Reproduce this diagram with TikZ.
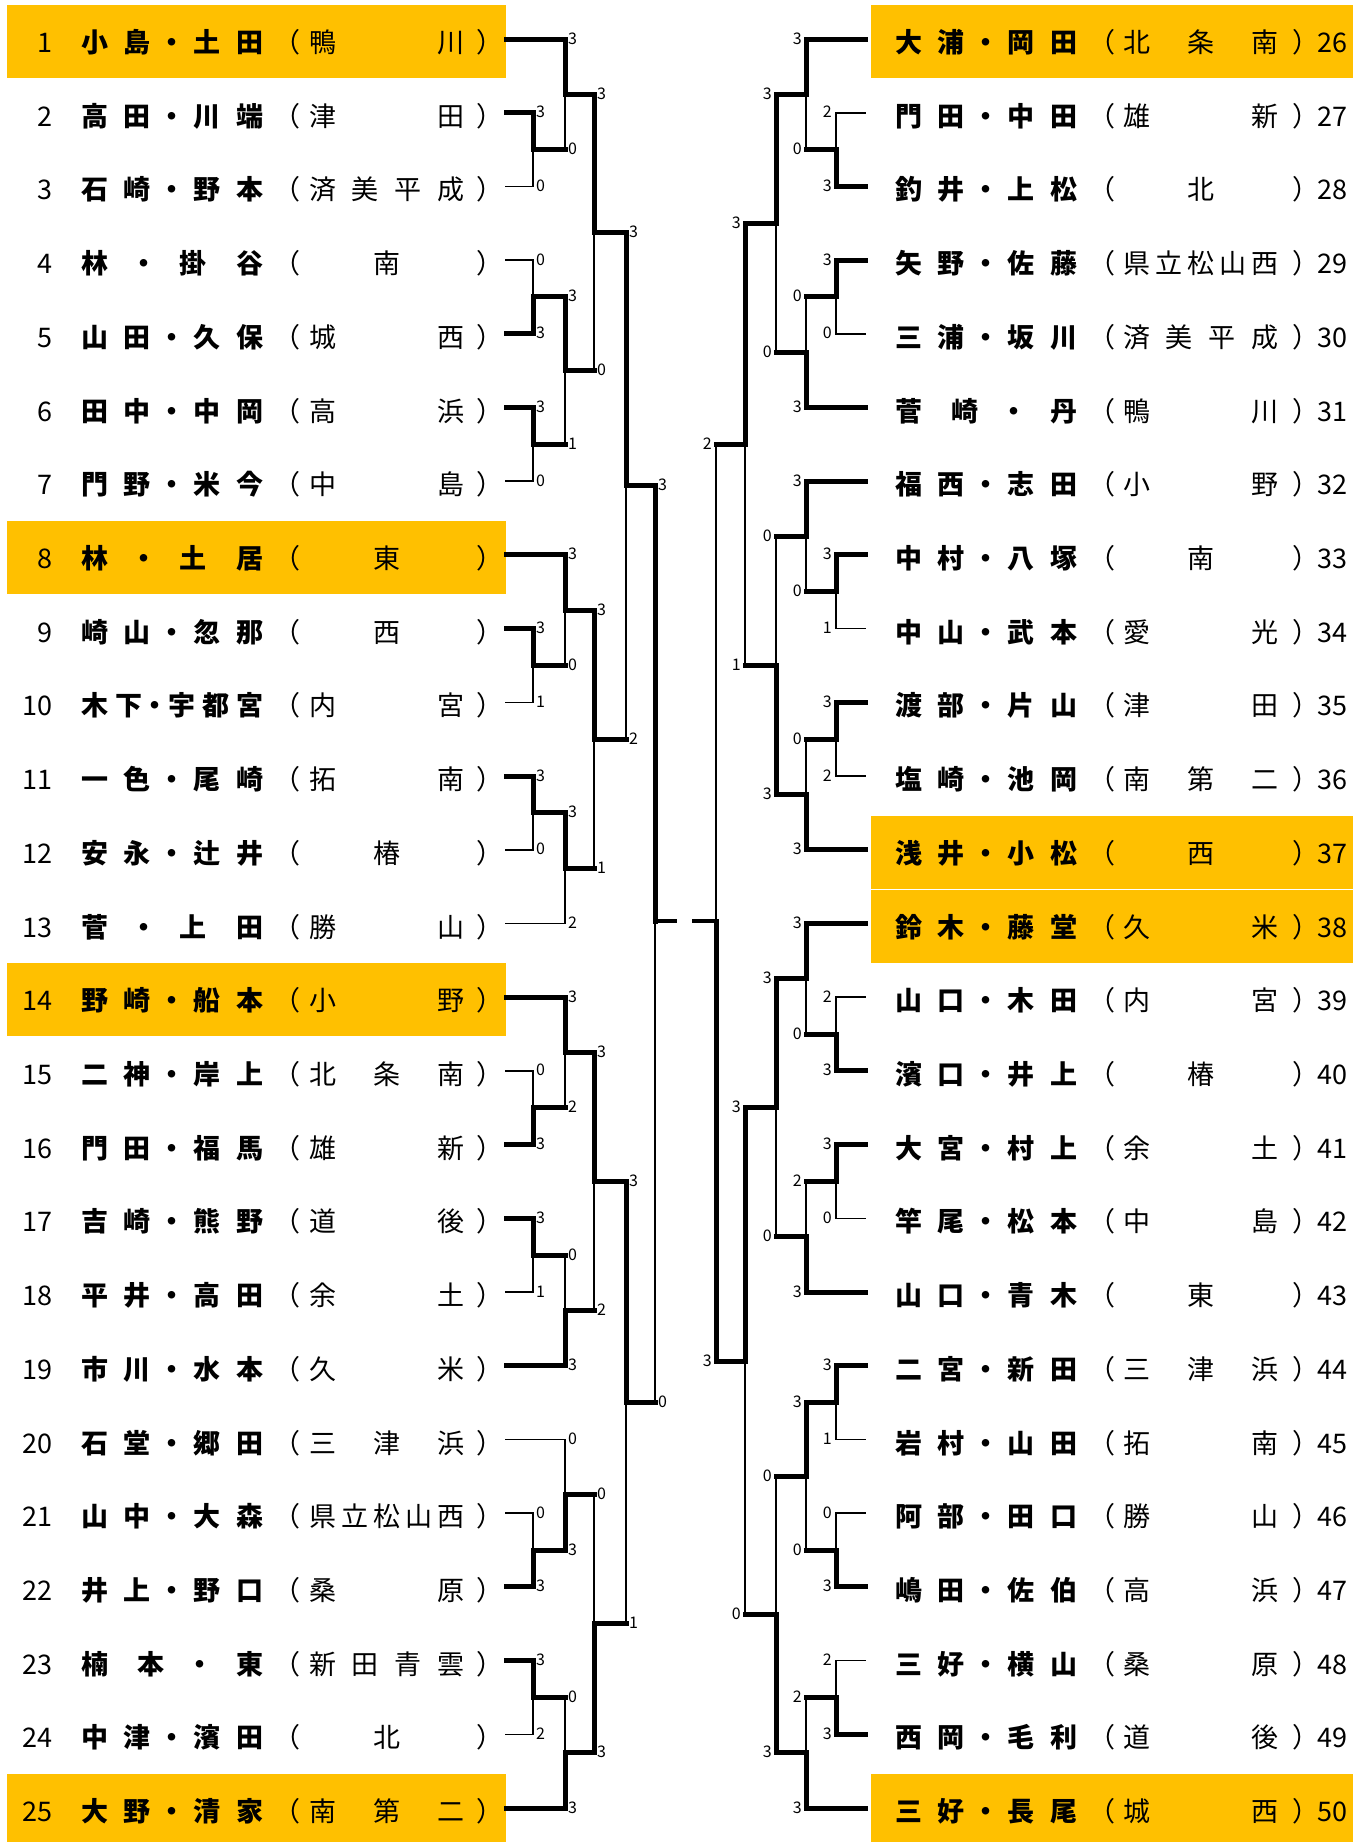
\documentclass[tikz,border=0pt]{standalone}
\usepackage{fontspec}
\newfontfamily\jp{Noto Sans CJK JP}
\definecolor{gold}{RGB}{255,192,0}
\newcount\dN
\newcount\dD
\newcount\nodeno
\def\CW{25}
\def\DW{10}
\newcommand\Yv[1]{(39+73.71*(#1-1))}
\tikzset{
  thk/.style={line width=5pt},
  thn/.style={line width=1.6pt},
  stubline/.style={line width=3.3pt},
  nm/.style={font=\jp\bfseries\fontsize{27}{27}\selectfont, inner sep=0pt, anchor=base},
  sc/.style={font=\jp\fontsize{27}{27}\selectfont, inner sep=0pt, anchor=base},
  num/.style={font=\jp\fontsize{27}{27}\selectfont, inner sep=0pt},
  lbl/.style={font=\jp\fontsize{16}{16}\selectfont, inner sep=0pt},
  hl/.style={fill=gold, draw=none},
}
\newcommand\cnt[2]{\global#1=0 \foreach \dch in {#2}{\global\advance#1 by 1 }}
\newcommand\putlist[3]{%
  \foreach \dch in {#3}{%
    \pgfmathsetmacro\dcx{\curx+\CW/2}%
    \global\advance\nodeno by 1
    \node[#1] (t\the\nodeno) at (\dcx,#2) {\dch};
    \pgfmathsetmacro\dnx{\curx+\CW+\dgap}%
    \xdef\curx{\dnx}%
  }%
}
\newcommand\namefield[5]{%
  \cnt\dN{#4}\cnt\dD{#5}%
  \pgfmathsetmacro\dgap{(#2-#1-(\the\dN+\the\dD)*\CW-\DW)/(\the\dN+\the\dD)}%
  \xdef\curx{#1}%
  \putlist{nm}{#3}{#4}%
  \pgfmathsetmacro\dcx{\curx+\DW/2}%
  \global\advance\nodeno by 1
  \node[nm] (t\the\nodeno) at (\dcx,#3) {・};
  \pgfmathsetmacro\dnx{\curx+\DW+\dgap}%
  \xdef\curx{\dnx}%
  \putlist{nm}{#3}{#5}%
}
\newcommand\schfield[4]{%
  \cnt\dN{#4}%
  \ifnum\dN=1
    \def\dgap{0}%
    \pgfmathsetmacro\dsx{(#1+#2)/2-\CW/2}%
    \xdef\curx{\dsx}%
  \else
    \pgfmathsetmacro\dgap{(#2-#1-\the\dN*\CW)/(\the\dN-1)}%
    \xdef\curx{#1}%
  \fi
  \putlist{sc}{#3}{#4}%
}
\newcommand\rowL[5]{%
  \pgfmathsetmacro\rly{39+73.71*(#1-1)}%
  \ifnum#5=1 \fill[hl] (7,\rly-34) rectangle (506,\rly+39);\fi
  \node[num,anchor=base east] (n#1) at (53,\rly+13.5) {#1};
  \namefield{82}{262}{\rly+13.5}{#2}{#3}%
  \node[sc] (po#1) at (287,\rly+13.5) {（};
  \schfield{310}{463}{\rly+13.5}{#4}%
  \node[sc] (pc#1) at (490,\rly+13.5) {）};
}
\newcommand\rowR[5]{%
  \pgfmathsetmacro\rly{39+73.71*(#1-26)}%
  \ifnum#5=1 \fill[hl] (871,\rly-34) rectangle (1353,\rly+39);\fi
  \namefield{896}{1076}{\rly+13.5}{#2}{#3}%
  \node[sc] (po#1) at (1101.5,\rly+13.5) {（};
  \schfield{1124}{1277}{\rly+13.5}{#4}%
  \node[sc] (pc#1) at (1305.5,\rly+13.5) {）};
  \node[num,anchor=base west] (n#1) at (1317,\rly+13.5) {#1};
}
\newcommand\lf[3]{\draw[#3] (506,{\Yv{#1}}) -- (#2,{\Yv{#1}});}
\newcommand\rf[3]{\draw[#3] (865,{\Yv{#1}}) -- (#2,{\Yv{#1}});}
% #1 side, #2 X, #3 Xnext, #4 rtop, #5 stop, #6 rbot, #7 sbot, #8 rjunction
\newcommand\mt[8]{%
  \ifnum#5>#7
    \draw[thk] (#2,{\Yv{#4}}) -- (#2,{\Yv{#8}});
    \draw[thn] (#2,{\Yv{#8}}) -- (#2,{\Yv{#6}});
  \else
    \draw[thn] (#2,{\Yv{#4}}) -- (#2,{\Yv{#8}});
    \draw[thk] (#2,{\Yv{#8}}) -- (#2,{\Yv{#6}});
  \fi
  \draw[thk] (#2,{\Yv{#8}}) -- (#3,{\Yv{#8}});
  \if L#1
    \global\advance\nodeno by 1
    \node[lbl,anchor=base west] (l\the\nodeno) at ({#2+3},{\Yv{#4}+5}) {#5};
    \global\advance\nodeno by 1
    \node[lbl,anchor=base west] (l\the\nodeno) at ({#2+3},{\Yv{#6}+5}) {#7};
  \else
    \global\advance\nodeno by 1
    \node[lbl,anchor=base east] (l\the\nodeno) at ({#2-4},{\Yv{#4}+5}) {#5};
    \global\advance\nodeno by 1
    \node[lbl,anchor=base east] (l\the\nodeno) at ({#2-4},{\Yv{#6}+5}) {#7};
  \fi
}
\begin{document}
\begin{tikzpicture}[x=1pt,y=-1pt,line cap=rect]
\useasboundingbox (0,0) rectangle (1364,1842);
% ---- left entries
\rowL{1}{小,島}{土,田}{鴨,川}{1}
\rowL{2}{高,田}{川,端}{津,田}{0}
\rowL{3}{石,崎}{野,本}{済,美,平,成}{0}
\rowL{4}{林}{掛,谷}{南}{0}
\rowL{5}{山,田}{久,保}{城,西}{0}
\rowL{6}{田,中}{中,岡}{高,浜}{0}
\rowL{7}{門,野}{米,今}{中,島}{0}
\rowL{8}{林}{土,居}{東}{1}
\rowL{9}{崎,山}{忽,那}{西}{0}
\rowL{10}{木,下}{宇,都,宮}{内,宮}{0}
\rowL{11}{一,色}{尾,崎}{拓,南}{0}
\rowL{12}{安,永}{辻,井}{椿}{0}
\rowL{13}{菅}{上,田}{勝,山}{0}
\rowL{14}{野,崎}{船,本}{小,野}{1}
\rowL{15}{二,神}{岸,上}{北,条,南}{0}
\rowL{16}{門,田}{福,馬}{雄,新}{0}
\rowL{17}{吉,崎}{熊,野}{道,後}{0}
\rowL{18}{平,井}{高,田}{余,土}{0}
\rowL{19}{市,川}{水,本}{久,米}{0}
\rowL{20}{石,堂}{郷,田}{三,津,浜}{0}
\rowL{21}{山,中}{大,森}{県,立,松,山,西}{0}
\rowL{22}{井,上}{野,口}{桑,原}{0}
\rowL{23}{楠,本}{東}{新,田,青,雲}{0}
\rowL{24}{中,津}{濱,田}{北}{0}
\rowL{25}{大,野}{清,家}{南,第,二}{1}
% ---- right entries
\rowR{26}{大,浦}{岡,田}{北,条,南}{1}
\rowR{27}{門,田}{中,田}{雄,新}{0}
\rowR{28}{釣,井}{上,松}{北}{0}
\rowR{29}{矢,野}{佐,藤}{県,立,松,山,西}{0}
\rowR{30}{三,浦}{坂,川}{済,美,平,成}{0}
\rowR{31}{菅,崎}{丹}{鴨,川}{0}
\rowR{32}{福,西}{志,田}{小,野}{0}
\rowR{33}{中,村}{八,塚}{南}{0}
\rowR{34}{中,山}{武,本}{愛,光}{0}
\rowR{35}{渡,部}{片,山}{津,田}{0}
\rowR{36}{塩,崎}{池,岡}{南,第,二}{0}
\rowR{37}{浅,井}{小,松}{西}{1}
\rowR{38}{鈴,木}{藤,堂}{久,米}{1}
\rowR{39}{山,口}{木,田}{内,宮}{0}
\rowR{40}{濱,口}{井,上}{椿}{0}
\rowR{41}{大,宮}{村,上}{余,土}{0}
\rowR{42}{竿,尾}{松,本}{中,島}{0}
\rowR{43}{山,口}{青,木}{東}{0}
\rowR{44}{二,宮}{新,田}{三,津,浜}{0}
\rowR{45}{岩,村}{山,田}{拓,南}{0}
\rowR{46}{阿,部}{田,口}{勝,山}{0}
\rowR{47}{嶋,田}{佐,伯}{高,浜}{0}
\rowR{48}{三,好}{横,山}{桑,原}{0}
\rowR{49}{西,岡}{毛,利}{道,後}{0}
\rowR{50}{三,好}{長,尾}{城,西}{1}
% ---- left leaves
\lf{1}{565}{thk}\lf{2}{533}{thk}\lf{3}{533}{thn}\lf{4}{533}{thn}\lf{5}{533}{thk}
\lf{6}{533}{thk}\lf{7}{533}{thn}\lf{8}{565}{thk}\lf{9}{533}{thk}\lf{10}{533}{thn}
\lf{11}{533}{thk}\lf{12}{533}{thn}\lf{13}{565}{thn}\lf{14}{565}{thk}\lf{15}{533}{thn}
\lf{16}{533}{thk}\lf{17}{533}{thk}\lf{18}{533}{thn}\lf{19}{565}{thk}\lf{20}{565}{thn}
\lf{21}{533}{thn}\lf{22}{533}{thk}\lf{23}{533}{thk}\lf{24}{533}{thn}\lf{25}{565}{thk}
% ---- right leaves
\rf{1}{806}{thk}\rf{2}{836}{thn}\rf{3}{836}{thk}\rf{4}{836}{thk}\rf{5}{836}{thn}
\rf{6}{806}{thk}\rf{7}{806}{thk}\rf{8}{836}{thk}\rf{9}{836}{thn}\rf{10}{836}{thk}
\rf{11}{836}{thn}\rf{12}{806}{thk}\rf{13}{806}{thk}\rf{14}{836}{thn}\rf{15}{836}{thk}
\rf{16}{836}{thk}\rf{17}{836}{thn}\rf{18}{806}{thk}\rf{19}{836}{thk}\rf{20}{836}{thn}
\rf{21}{836}{thn}\rf{22}{836}{thk}\rf{23}{836}{thn}\rf{24}{836}{thk}\rf{25}{806}{thk}
% ---- left bracket
\mt{L}{533}{565}{2}{3}{3}{0}{2.5}
\mt{L}{533}{565}{4}{0}{5}{3}{4.5}
\mt{L}{533}{565}{6}{3}{7}{0}{6.5}
\mt{L}{533}{565}{9}{3}{10}{1}{9.5}
\mt{L}{533}{565}{11}{3}{12}{0}{11.5}
\mt{L}{533}{565}{15}{0}{16}{3}{15.5}
\mt{L}{533}{565}{17}{3}{18}{1}{17.5}
\mt{L}{533}{565}{21}{0}{22}{3}{21.5}
\mt{L}{533}{565}{23}{3}{24}{2}{23.5}
\mt{L}{565}{594}{1}{3}{2.5}{0}{1.75}
\mt{L}{565}{594}{4.5}{3}{6.5}{1}{5.5}
\mt{L}{565}{594}{8}{3}{9.5}{0}{8.75}
\mt{L}{565}{594}{11.5}{3}{13}{2}{12.25}
\mt{L}{565}{594}{14}{3}{15.5}{2}{14.75}
\mt{L}{565}{594}{17.5}{0}{19}{3}{18.25}
\mt{L}{565}{594}{20}{0}{21.5}{3}{20.75}
\mt{L}{565}{594}{23.5}{0}{25}{3}{24.25}
\mt{L}{594}{626}{1.75}{3}{5.5}{0}{3.625}
\mt{L}{594}{626}{8.75}{3}{12.25}{1}{10.5}
\mt{L}{594}{626}{14.75}{3}{18.25}{2}{16.5}
\mt{L}{594}{626}{20.75}{0}{24.25}{3}{22.5}
\mt{L}{626}{655}{3.625}{3}{10.5}{2}{7.0625}
\mt{L}{626}{655}{16.5}{3}{22.5}{1}{19.5}
% left final
\coordinate (fl) at (655,921);
\coordinate (fr) at (716,921);
\draw[thk] (655,{\Yv{7.0625}}) -- (fl);
\draw[thn] (fl) -- (655,{\Yv{19.5}});
\draw[stubline] (fl) -- ++(20,0);
\node[lbl,anchor=base west] (flt) at (658,{\Yv{7.0625}+5}) {3};
\node[lbl,anchor=base west] (flb) at (658,{\Yv{19.5}+5}) {0};
% ---- right bracket
\mt{R}{836}{806}{2}{2}{3}{3}{2.5}
\mt{R}{836}{806}{4}{3}{5}{0}{4.5}
\mt{R}{836}{806}{8}{3}{9}{1}{8.5}
\mt{R}{836}{806}{10}{3}{11}{2}{10.5}
\mt{R}{836}{806}{14}{2}{15}{3}{14.5}
\mt{R}{836}{806}{16}{3}{17}{0}{16.5}
\mt{R}{836}{806}{19}{3}{20}{1}{19.5}
\mt{R}{836}{806}{21}{0}{22}{3}{21.5}
\mt{R}{836}{806}{23}{2}{24}{3}{23.5}
\mt{R}{806}{776}{1}{3}{2.5}{0}{1.75}
\mt{R}{806}{776}{4.5}{0}{6}{3}{5.25}
\mt{R}{806}{776}{7}{3}{8.5}{0}{7.75}
\mt{R}{806}{776}{10.5}{0}{12}{3}{11.25}
\mt{R}{806}{776}{13}{3}{14.5}{0}{13.75}
\mt{R}{806}{776}{16.5}{2}{18}{3}{17.25}
\mt{R}{806}{776}{19.5}{3}{21.5}{0}{20.5}
\mt{R}{806}{776}{23.5}{2}{25}{3}{24.25}
\mt{R}{776}{745}{1.75}{3}{5.25}{0}{3.5}
\mt{R}{776}{745}{7.75}{0}{11.25}{3}{9.5}
\mt{R}{776}{745}{13.75}{3}{17.25}{0}{15.5}
\mt{R}{776}{745}{20.5}{0}{24.25}{3}{22.375}
\mt{R}{745}{716}{3.5}{3}{9.5}{1}{6.5}
\mt{R}{745}{716}{15.5}{3}{22.375}{0}{18.9375}
% right final
\draw[thn] (716,{\Yv{6.5}}) -- (fr);
\draw[thk] (fr) -- (716,{\Yv{18.9375}});
\draw[stubline] (fr) -- ++(-22,0);
\node[lbl,anchor=base east] (frt) at (712,{\Yv{6.5}+5}) {2};
\node[lbl,anchor=base east] (frb) at (712,{\Yv{18.9375}+5}) {3};
\end{tikzpicture}
\end{document}
